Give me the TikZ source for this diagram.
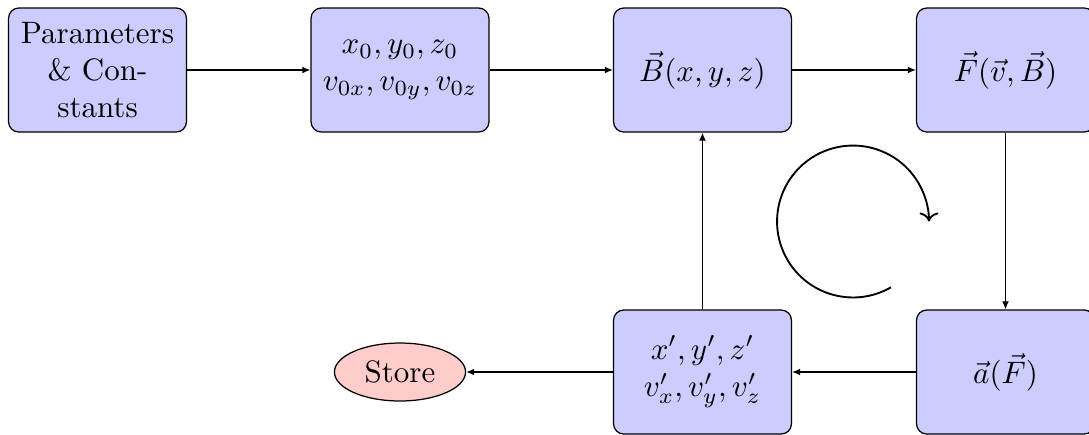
\documentclass[tikz,border=0pt]{standalone}
\usetikzlibrary{shapes.geometric,arrows.meta}
\begin{document}
\begin{tikzpicture}[x=0.3226pt,y=-0.3226pt,
  blockbox/.style={rectangle, draw, fill=blue!20, rounded corners=3.3pt,
    minimum width=57.4pt, minimum height=40pt, align=center, inner sep=0pt},
  storebox/.style={ellipse, draw, fill=red!20, minimum width=42.3pt,
    minimum height=18.7pt, inner sep=0pt},
  flow/.style={draw, -{Latex[length=2.6pt,width=2.2pt]}},
  loopline/.style={draw, semithick, ->},
  ]
\useasboundingbox (0,0) rectangle (1089,434);
\node[blockbox] (par) at (97.5,70) {Parameters\\ \& Con-\\ stants};
\node[blockbox] (init) at (400,70) {$x_0, y_0, z_0$\\ $v_{0x}, v_{0y}, v_{0z}$};
\node[blockbox] (bfield) at (702.5,70) {$\vec{B}(x,y,z)$};
\node[blockbox] (force) at (1005.5,70) {$\vec{F}(\vec{v},\vec{B})$};
\node[blockbox] (acc) at (1005.5,372) {$\vec{a}(\vec{F})$};
\node[blockbox] (upd) at (702.5,372) {$x', y', z'$\\ $v'_x, v'_y, v'_z$};
\node[storebox] (store) at (400,372) {Store};
\coordinate (loopc) at (853,221.5);

\path[flow] (par) -- (init);
\path[flow] (init) -- (bfield);
\path[flow] (bfield) -- (force);
\path[flow] (force) -- (acc);
\path[flow] (acc) -- (upd);
\path[flow] (upd) -- (store);
\path[flow] (upd) -- (bfield);
\path[loopline] (loopc) ++(-60:24.5pt) arc[start angle=-60, end angle=-360, radius=24.5pt];
\end{tikzpicture}
\end{document}
